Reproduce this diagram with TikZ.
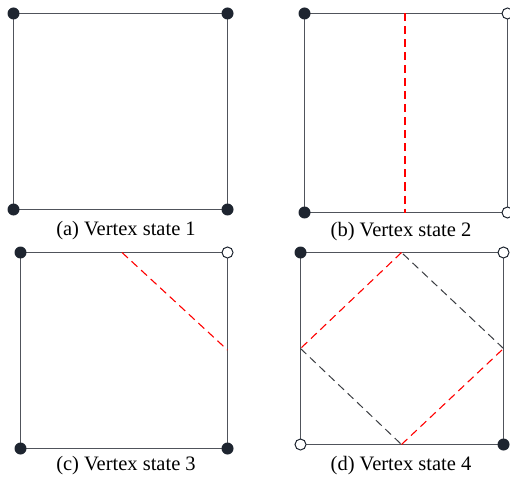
\documentclass[tikz,border=0pt]{standalone}
\usepackage{fontspec}
\setmainfont{Liberation Serif}
\newfontfamily\capfont{Liberation Serif}
\definecolor{edgegray}{HTML}{50545B}
\definecolor{dotfill}{HTML}{1E2530}
\definecolor{dashblack}{HTML}{3A3D42}
\begin{document}
\begin{tikzpicture}[x=1pt,y=-1pt,
  edge/.style={draw=edgegray, line width=1.3pt},
  reddash/.style={draw=red, line width=1.1pt, dash pattern=on 8pt off 5pt},
  blackdash/.style={draw=dashblack, line width=1pt, dash pattern=on 8pt off 5pt},
  vfull/.style={circle, fill=dotfill, inner sep=0pt, minimum size=12pt},
  vopen/.style={circle, draw=dotfill, fill=white, line width=1pt, inner sep=0pt, minimum size=11pt},
  caption/.style={font=\capfont\fontsize{20.5}{24}\selectfont, inner sep=0pt}]
\useasboundingbox (0,0) rectangle (510,478);
% ---- panel (a)
\coordinate (a1) at (13.5,13.5);
\coordinate (a2) at (227.5,13.5);
\coordinate (a3) at (227.5,209.5);
\coordinate (a4) at (13.5,209.5);
\draw[edge] (a1) -- (a2) -- (a3) -- (a4) -- cycle;
\node[vfull] (va1) at (a1) {};
\node[vfull] (va2) at (a2) {};
\node[vfull] (va3) at (a3) {};
\node[vfull] (va4) at (a4) {};
\node[caption] (capa) at (126,231) {(a) Vertex state 1};
% ---- panel (b)
\coordinate (b1) at (304.5,13.5);
\coordinate (b2) at (507.5,13.5);
\coordinate (b3) at (507.5,212.5);
\coordinate (b4) at (304.5,212.5);
\coordinate (bt) at (405,13.5);
\coordinate (bb) at (405,212.5);
\draw[edge] (b1) -- (b2) -- (b3) -- (b4) -- cycle;
\draw[reddash] (bt) -- (bb);
\node[vfull] (vb1) at (b1) {};
\node[vopen] (vb2) at (b2) {};
\node[vopen] (vb3) at (b3) {};
\node[vfull] (vb4) at (b4) {};
\node[caption] (capb) at (401,231.5) {(b) Vertex state 2};
% ---- panel (c)
\coordinate (c1) at (20.5,252.5);
\coordinate (c2) at (227.5,252.5);
\coordinate (c3) at (227.5,448.5);
\coordinate (c4) at (20.5,448.5);
\coordinate (ct) at (122,252.5);
\coordinate (cr) at (227.5,350);
\draw[edge] (c1) -- (c2) -- (c3) -- (c4) -- cycle;
\draw[reddash] (ct) -- (cr);
\node[vfull] (vc1) at (c1) {};
\node[vopen] (vc2) at (c2) {};
\node[vfull] (vc3) at (c3) {};
\node[vfull] (vc4) at (c4) {};
\node[caption] (capc) at (126,466) {(c) Vertex state 3};
% ---- panel (d)
\coordinate (d1) at (300.5,252.5);
\coordinate (d2) at (503.5,252.5);
\coordinate (d3) at (503.5,444.5);
\coordinate (d4) at (300.5,444.5);
\coordinate (dt) at (401.5,252.5);
\coordinate (dr) at (503.5,348.5);
\coordinate (db) at (401.5,444.5);
\coordinate (dl) at (300.5,348.5);
\draw[edge] (d1) -- (d2) -- (d3) -- (d4) -- cycle;
\draw[reddash] (dt) -- (dl);
\draw[blackdash] (dl) -- (db);
\draw[reddash] (db) -- (dr);
\draw[blackdash] (dr) -- (dt);
\node[vfull] (vd1) at (d1) {};
\node[vopen] (vd2) at (d2) {};
\node[vfull] (vd3) at (d3) {};
\node[vopen] (vd4) at (d4) {};
\node[caption] (capd) at (401,466) {(d) Vertex state 4};
\end{tikzpicture}
\end{document}
